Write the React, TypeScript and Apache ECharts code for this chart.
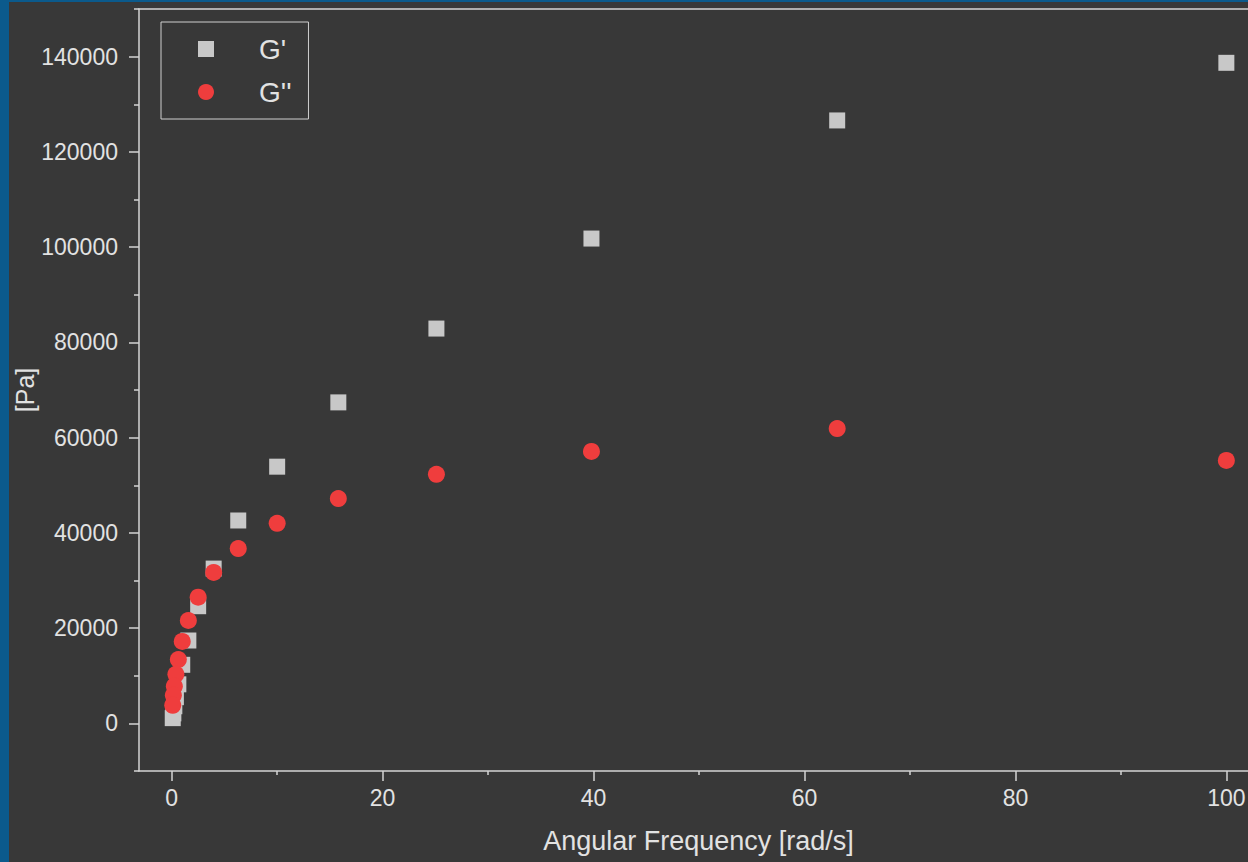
import React, { useEffect, useRef } from "react";
import * as echarts from "echarts";

const frequencies = [100, 63.1, 39.8, 25.1, 15.8, 10, 6.31, 3.98, 2.51, 1.58, 1, 0.631, 0.398, 0.251, 0.158, 0.1];
const storageModulus = [138700, 126600, 101800, 82900, 67400, 53900, 42600, 32500, 24600, 17400, 12300, 8200, 5500, 3600, 2100, 1100];
const lossModulus = [55200, 61900, 57100, 52300, 47200, 42000, 36700, 31700, 26500, 21600, 17200, 13400, 10300, 7800, 5900, 3800];
const xMajorTicks = [0, 20, 40, 60, 80, 100];
const xMinorTicks = [10, 30, 50, 70, 90];
const yMajorTicks = [0, 20000, 40000, 60000, 80000, 100000, 120000, 140000];
const yMinorTicks = [-10000, 10000, 30000, 50000, 70000, 90000, 110000, 130000, 150000];
const seriesNames = ["G'", "G''"];

const FONT = "'Liberation Sans', Arial, sans-serif";
const AXIS = "#d4d4d4";
const TEXT = "#e2e2e2";

export default function App() {
  const ref = useRef<HTMLDivElement>(null);
  useEffect(() => {
    if (!ref.current) return;
    const chart = echarts.init(ref.current, undefined, { renderer: "svg" });
    const xRange = { min: -3.1, max: 103 };
    const yRange = { min: -10000, max: 150000 };
    const plain = (v: number) => String(v);
    chart.setOption({
      animation: false,
      backgroundColor: "#383838",
      textStyle: { fontFamily: FONT },
      grid: { left: 130, top: 7, bottom: 91, right: -10, containLabel: false, outerBoundsMode: "none" },
      legend: {
        orient: "vertical",
        left: 152,
        top: 20,
        padding: [13, 17, 13, 37],
        itemGap: 15,
        itemWidth: 16,
        itemHeight: 16,
        borderColor: "#cfcfcf",
        borderWidth: 1,
        textStyle: { color: TEXT, fontSize: 28, fontFamily: FONT, padding: [0, 0, 0, 40], lineHeight: 26 },
        data: [
          { name: seriesNames[0], icon: "rect" },
          { name: seriesNames[1], icon: "circle" },
        ],
      },
      xAxis: [
        {
          type: "value",
          ...xRange,
          position: "bottom",
          axisLine: { show: true, onZero: false, lineStyle: { color: AXIS, width: 1.5 } },
          axisTick: { show: true, inside: false, length: 10, customValues: xMajorTicks, lineStyle: { color: AXIS, width: 1.5 } },
          axisLabel: { show: true, customValues: xMajorTicks, formatter: plain, fontSize: 23, color: TEXT, margin: 15, fontFamily: FONT },
          splitLine: { show: false },
          name: "Angular Frequency [rad/s]",
          nameLocation: "middle",
          nameGap: 56,
          nameMoveOverlap: false,
          nameTextStyle: { fontSize: 27, color: TEXT, fontFamily: FONT },
        },
        {
          type: "value",
          ...xRange,
          position: "bottom",
          axisLine: { show: false, onZero: false },
          axisTick: { show: true, inside: false, length: 4, customValues: xMinorTicks, lineStyle: { color: AXIS, width: 1.5 } },
          axisLabel: { show: false },
          splitLine: { show: false },
        },
        {
          type: "value",
          ...xRange,
          position: "top",
          axisLine: { show: true, onZero: false, lineStyle: { color: AXIS, width: 1.5 } },
          axisTick: { show: false },
          axisLabel: { show: false },
          splitLine: { show: false },
        },
      ],
      yAxis: [
        {
          type: "value",
          ...yRange,
          position: "left",
          axisLine: { show: true, onZero: false, lineStyle: { color: AXIS, width: 1.5 } },
          axisTick: { show: true, inside: false, length: 10, customValues: yMajorTicks, lineStyle: { color: AXIS, width: 1.5 } },
          axisLabel: { show: true, customValues: yMajorTicks, formatter: plain, fontSize: 23, color: TEXT, margin: 21, fontFamily: FONT },
          splitLine: { show: false },
          name: "[Pa]",
          nameLocation: "middle",
          nameGap: 102,
          nameMoveOverlap: false,
          nameTextStyle: { fontSize: 25, color: TEXT, fontFamily: FONT },
        },
        {
          type: "value",
          ...yRange,
          position: "left",
          axisLine: { show: false, onZero: false },
          axisTick: { show: true, inside: false, length: 5, customValues: yMinorTicks, lineStyle: { color: AXIS, width: 1.5 } },
          axisLabel: { show: false },
          splitLine: { show: false },
        },
      ],
      series: [
        {
          name: seriesNames[0],
          type: "scatter",
          symbol: "rect",
          symbolSize: 16,
          itemStyle: { color: "#c8c8c8", opacity: 1 },
          data: frequencies.map((f, i) => [f, storageModulus[i]]),
          z: 2,
        },
        {
          name: seriesNames[1],
          type: "scatter",
          symbol: "circle",
          symbolSize: 17,
          itemStyle: { color: "#ef3d3d", opacity: 1 },
          data: frequencies.map((f, i) => [f, lossModulus[i]]),
          z: 3,
        },
      ],
    });
    return () => chart.dispose();
  }, []);

  return (
    <div style={{ position: "absolute", left: 0, top: 0, width: 1248, height: 862, background: "#0b5a8c", overflow: "hidden" }}>
      <div ref={ref} style={{ position: "absolute", left: 9, top: 2, width: 1239, height: 860 }} />
    </div>
  );
}
